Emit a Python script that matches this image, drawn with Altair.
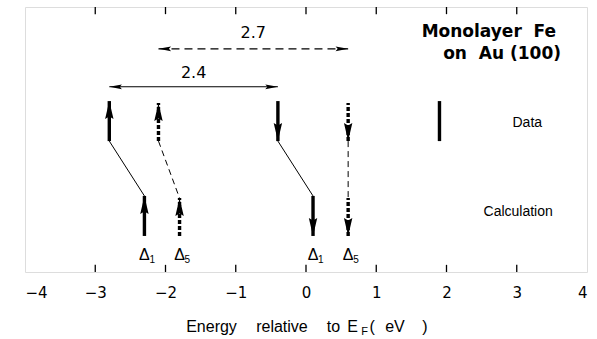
import altair as alt
import pandas as pd

# ---- data ----
data_energy = [-2.8, -2.1, -0.4, 0.6, 1.9]
data_spin = ["up", "up", "down", "down", "none"]
data_style = ["solid", "dotted", "solid", "dotted", "solid"]

calc_energy = [-2.3, -1.8, 0.1, 0.6]
calc_spin = ["up", "up", "down", "down"]
calc_style = ["solid", "dotted", "solid", "dotted"]
calc_band = ["1", "5", "1", "5"]

gap_from = [-2.8, -2.1]
gap_to = [-0.4, 0.6]
gap_label = ["2.4", "2.7"]
gap_style = ["solid", "dashed"]

x_ticks = [-4, -3, -2, -1, 0, 1, 2, 3, 4]

title_words = ["Energy", "relative", "to", "E", "F", "(", "eV", ")"]
title_word_x = [-1.345, -0.342, 0.391, 0.662, 0.833, 0.94, 1.267, 1.694]

# ---- layout levels (vertical, abstract units 0..10) ----
DATA_TOP, DATA_BOT = 6.45, 4.94
CALC_TOP, CALC_BOT = 2.87, 1.36
GAP_Y = [6.99, 8.42]
GAP_LABEL_Y = [7.51, 9.02]

W, H = 562, 265
xs = alt.Scale(domain=[-4, 4], nice=False, zero=False)
ys = alt.Scale(domain=[0, 10], nice=False, zero=False)
FONT = "Liberation Sans"

bars = pd.DataFrame({
    "x": data_energy + calc_energy,
    "y": [DATA_BOT] * len(data_energy) + [CALC_BOT] * len(calc_energy),
    "y2": [DATA_TOP if s == "solid" else DATA_TOP - 0.07 for s in data_style]
          + [CALC_TOP if s == "solid" else CALC_TOP - 0.08 for s in calc_style],
    "style": data_style + calc_style,
    "spin": data_spin + calc_spin,
})
bars["tip"] = [r.y2 if r.spin == "up" else r.y for r in bars.itertuples()]

conn = pd.DataFrame({
    "x": data_energy[:4], "y": [DATA_BOT] * 4,
    "x2": calc_energy, "y2": [CALC_TOP if s == "solid" else CALC_TOP - 0.08 for s in calc_style],
    "style": calc_style,
})

gaps = pd.DataFrame({"x": gap_from, "x2": gap_to, "y": GAP_Y, "label": gap_label,
                     "ly": GAP_LABEL_Y, "style": gap_style,
                     "mid": [(a + b) / 2 for a, b in zip(gap_from, gap_to)]})

ticks = pd.DataFrame({"x": x_ticks[1:-1]})

UP = "M0,0 L0.42,1.8 L0,1.55 L-0.42,1.8 Z"
DOWN = "M0,0 L0.42,-1.8 L0,-1.55 L-0.42,-1.8 Z"
LEFT = "M0,0 L1.8,-0.34 L1.5,0 L1.8,0.34 Z"
RIGHT = "M0,0 L-1.8,-0.34 L-1.5,0 L-1.8,0.34 Z"

X = lambda f="x": alt.X(f"{f}:Q", scale=xs)
Y = lambda f="y": alt.Y(f"{f}:Q", scale=ys)

base_x = alt.X("x:Q", scale=xs, axis=alt.Axis(
    values=x_ticks, format="d", ticks=False, domain=False, grid=False, title=None,
    labelFontSize=15, labelPadding=13, labelFont="DejaVu Sans", labelColor="black"))

solid_bars = alt.Chart(bars[bars["style"] == "solid"]).mark_rule(
    strokeWidth=3.4, color="black").encode(
    x=base_x, y=alt.Y("y:Q", scale=ys, axis=None), y2="y2:Q")
dotted_bars = alt.Chart(bars[bars["style"] == "dotted"]).mark_rule(
    strokeWidth=3.4, color="black", strokeDash=[4, 2]).encode(x=X(), y=Y(), y2="y2:Q")

head_up = alt.Chart(bars[bars["spin"] == "up"]).mark_point(
    shape=UP, filled=True, color="black", opacity=1, size=400, strokeWidth=0).encode(
    x=X(), y=Y("tip"))
head_down = alt.Chart(bars[bars["spin"] == "down"]).mark_point(
    shape=DOWN, filled=True, color="black", opacity=1, size=400, strokeWidth=0).encode(
    x=X(), y=Y("tip"))

conn_solid = alt.Chart(conn[conn["style"] == "solid"]).mark_rule(
    strokeWidth=1, color="black").encode(x=X(), y=Y(), x2="x2:Q", y2="y2:Q")
conn_dash = alt.Chart(conn[conn["style"] == "dotted"]).mark_rule(
    strokeWidth=1, color="black", strokeDash=[6, 4]).encode(x=X(), y=Y(), x2="x2:Q", y2="y2:Q")

gap_solid = alt.Chart(gaps[gaps["style"] == "solid"]).mark_rule(
    strokeWidth=1.2, color="black").encode(x=X(), x2="x2:Q", y=Y())
gap_dash = alt.Chart(gaps[gaps["style"] == "dashed"]).mark_rule(
    strokeWidth=1.2, color="black", strokeDash=[8, 5]).encode(x=X(), x2="x2:Q", y=Y())
gap_head_l = alt.Chart(gaps).mark_point(
    shape=LEFT, filled=True, color="black", opacity=1, size=196, strokeWidth=0).encode(x=X(), y=Y())
gap_head_r = alt.Chart(gaps).mark_point(
    shape=RIGHT, filled=True, color="black", opacity=1, size=196, strokeWidth=0).encode(x=X("x2"), y=Y())
gap_text = alt.Chart(gaps).mark_text(fontSize=16, font="DejaVu Sans", baseline="middle").encode(
    x=X("mid"), y=Y("ly"), text="label:N")

# frame ticks (inward)
tick_bot = alt.Chart(ticks).mark_rule(strokeWidth=1.3, color="black").encode(
    x=X(), y=alt.datum(0, scale=ys), y2=alt.datum(0.27))
tick_top = alt.Chart(ticks).mark_rule(strokeWidth=1.3, color="black").encode(
    x=X(), y=alt.datum(10, scale=ys), y2=alt.datum(9.73))

# band labels
calc_df = pd.DataFrame({"x": calc_energy, "band": calc_band})
delta = alt.Chart(calc_df).mark_text(text="Δ", fontSize=16, font=FONT, baseline="middle").encode(
    x=X(), y=alt.datum(0.66, scale=ys))
sub = alt.Chart(calc_df).mark_text(fontSize=10, font=FONT, baseline="middle", align="left",
                                   dx=5, dy=5).encode(
    x=X(), y=alt.datum(0.66, scale=ys), text="band:N")

# row labels and title
notes = pd.DataFrame({"x": [3.15, 3.02], "y": [5.62, 2.26], "t": ["Data", "Calculation"]})
notes_t = alt.Chart(notes).mark_text(fontSize=14, font=FONT, baseline="middle").encode(
    x=X(), y=Y(), text="t:N")
title_df = pd.DataFrame({"x": [3.56, 3.63], "y": [9.06, 8.23],
                         "t": ["Monolayer\u00a0\u00a0Fe", "on\u00a0\u00a0Au\u00a0(100)"]})
title_t = alt.Chart(title_df).mark_text(fontSize=17, font="DejaVu Sans", fontWeight="bold",
                                        baseline="middle", align="right").encode(
    x=X(), y=Y(), text="t:N")

# axis title, word by word, with subscript F
at_df = pd.DataFrame({"x": title_word_x, "t": title_words,
                      "sub": [w == "F" for w in title_words]})
at_main = alt.Chart(at_df[~at_df["sub"]]).mark_text(
    fontSize=16, font=FONT, baseline="middle").encode(
    x=X(), y=alt.datum(-2.08, scale=ys), text="t:N")
at_sub = alt.Chart(at_df[at_df["sub"]]).mark_text(
    fontSize=11, font=FONT, baseline="middle", dy=5).encode(
    x=X(), y=alt.datum(-2.08, scale=ys), text="t:N")

chart = alt.layer(
    solid_bars, dotted_bars, head_up, head_down, conn_solid, conn_dash,
    gap_solid, gap_dash, gap_head_l, gap_head_r, gap_text, tick_bot, tick_top,
    delta, sub, notes_t, title_t, at_main, at_sub,
).properties(
    width=W, height=H,
    autosize=alt.AutoSizeParams(type="none"),
    padding={"left": 25, "top": 7, "right": 10, "bottom": 67},
).configure_view(stroke="black", strokeWidth=1.5).configure(background="white")

chart.save("out.html", embed_options={"renderer": "svg", "actions": False})
